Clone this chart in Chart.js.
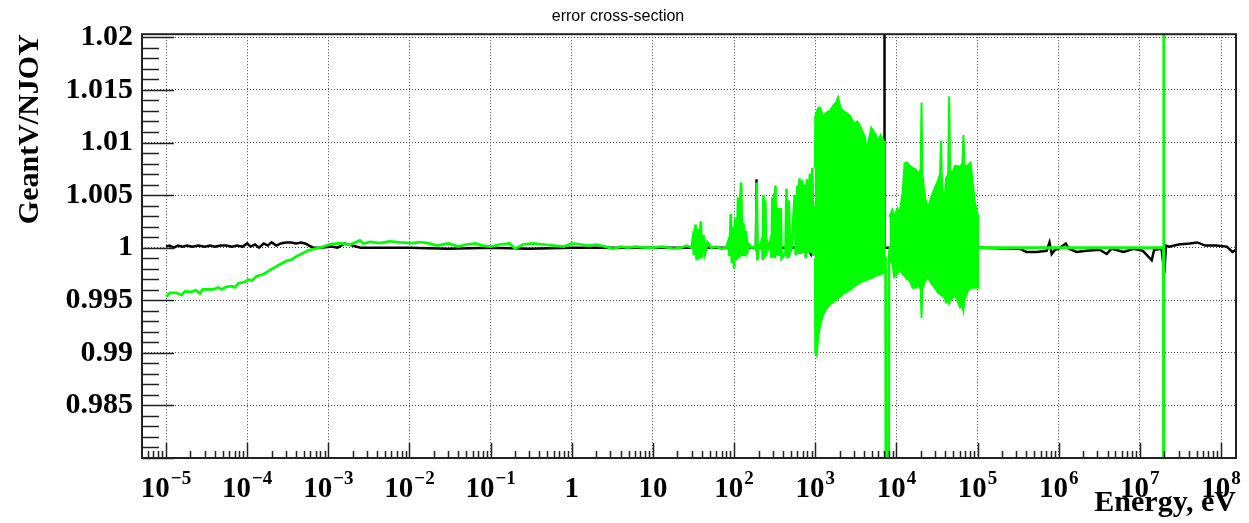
<!DOCTYPE html>
<html>
<head>
<meta charset="utf-8">
<title>error cross-section</title>
<script src="https://cdn.jsdelivr.net/npm/chart.js@4.4.1/dist/chart.umd.min.js"></script>
<style>
  html, body { margin: 0; padding: 0; background: #fff; }
  #chart { display: block; }
</style>
</head>
<body>
<canvas id="chart" width="1249" height="523"></canvas>
<script>
// GeantV / NJOY cross-section ratio vs neutron energy (ROOT-style look).
// Values.

// axis ranges and ticks
const xMin = 5.06e-6, xMax = 1.53e8;
const yMin = 0.98, yMax = 1.0203;
const xDecades = [-5, -4, -3, -2, -1, 0, 1, 2, 3, 4, 5, 6, 7, 8];
const yTickValues = [0.985, 0.99, 0.995, 1, 1.005, 1.01, 1.015, 1.02];
const yTickLabels = ["0.985", "0.99", "0.995", "1", "1.005", "1.01", "1.015", "1.02"];

// green: thermal / epithermal part (1e-5 .. 30 eV)
const greenLowE = [1e-5, 1.12e-5, 1.35e-5, 1.56e-5, 1.71e-5, 2.03e-5, 2.34e-5, 2.62e-5, 2.83e-5, 3.8e-5,
  4.4e-5, 4.85e-5, 5.5e-5, 6.45e-5, 7.1e-5, 7.75e-5, 9.4e-5, 1.03e-4, 1.14e-4, 1.31e-4,
  1.58e-4, 1.91e-4, 2.31e-4, 2.66e-4, 3.07e-4, 3.54e-4, 4.08e-4, 4.93e-4, 5.7e-4, 7.9e-4,
  1.05e-3, 1.4e-3, 1.85e-3, 2.45e-3, 2.7e-3, 3.3e-3, 4.3e-3, 5.7e-3, 7.6e-3, 1.08e-2,
  1.35e-2, 1.7e-2, 2.2e-2, 3e-2, 4e-2, 5e-2, 6.5e-2, 8e-2, 0.1, 0.13,
  0.17, 0.2, 0.25, 0.33, 0.45, 0.6, 0.8, 1, 1.3, 1.6,
  2, 2.6, 3.2, 4, 5, 6, 8, 10, 13, 18, 22, 26, 30];
const greenLowY = [0.99533, 0.99571, 0.99571, 0.99549, 0.99584, 0.9958, 0.99596, 0.99565, 0.99603, 0.99603,
  0.99622, 0.99603, 0.99628, 0.99634, 0.99622, 0.9966, 0.99675, 0.99698, 0.99685, 0.99729,
  0.99748, 0.99786, 0.99824, 0.9985, 0.99875, 0.99888, 0.99919, 0.99951, 0.99976, 1.0,
  1.00033, 1.00043, 1.00027, 1.0007, 1.0004, 1.00055, 1.00043, 1.00061, 1.0005, 1.00043,
  1.00052, 1.00043, 1.0002, 1.0004, 1.0001, 1.0003, 1.0004, 1.0002, 1.0001, 1.0003,
  1.0004, 0.9999, 1.0003, 1.0004, 1.0003, 1.0002, 1.0001, 1.0004, 1.0003, 1.0002,
  1.0003, 1.0001, 0.9999, 1.0001, 1.0, 1.0001, 1.0, 1.0, 1.0001, 0.9999, 1.0, 1.0002, 1.0];

// green: resolved resonances (30 eV .. 1 keV)
const greenResE = [31, 32, 33.5, 34.5, 36, 37, 39, 40, 42, 44, 47, 52, 60, 70, 80,
  85, 88, 91, 94, 97, 100, 104, 108, 112, 116, 119, 122, 126, 130, 135,
  140, 146, 153, 165, 178, 186, 190, 194, 200, 212, 222, 226, 230, 236, 242,
  248, 256, 268, 284, 290, 296, 303, 312, 318, 323, 330, 345, 355, 374, 385,
  430, 442, 455, 470, 490, 510, 560, 575, 600, 615, 640, 660, 690, 715, 740,
  760, 790, 820, 860, 890, 920, 950, 980, 1000];
const greenResY = [1.0008, 0.9993, 1.0022, 0.9988, 1.0018, 0.9989, 1.0025, 0.999, 1.0012, 0.9995, 1.0005, 1.0, 1.0001, 0.9999, 1.0,
  1.0006, 0.9992, 1.0032, 0.9985, 1.002, 0.998, 1.0028, 0.9988, 1.0048, 0.999, 1.004, 1.0062, 0.9992, 1.0024, 0.9992,
  1.0016, 0.9997, 1.0003, 1.0, 1.0001, 0.9998, 1.0062, 0.9988, 1.0002, 1.0, 1.001, 0.9988, 1.005, 0.999, 1.0045,
  0.9992, 1.0005, 1.0, 1.0008, 0.999, 1.0048, 0.9991, 1.0052, 0.999, 1.0059, 0.9993, 1.0038, 0.9992, 1.0038, 0.999,
  0.9995, 1.0056, 0.999, 1.0045, 0.9996, 1.0, 1.005, 0.9993, 1.0059, 0.9994, 1.0066, 0.9994, 1.0064, 0.9995, 1.006,
  0.999, 1.0065, 0.9995, 1.007, 0.9995, 1.0076, 0.9992, 1.004, 1.0];

// green: above 1 keV (dip near 7.7 keV, flat, spike near 20 MeV)
const greenHighE = [7350, 7700, 8100, 8300, 1.05e5, 1.95e7, 1.96e7, 1.975e7];
const greenHighY = [0.999, 0.9, 0.999, 1.0, 1.0, 1.0, 1.06, 0.94];

// green: unresolved-resonance bands (upper / lower envelope)
const band1E = [990, 1000, 1040, 1090, 1150, 1250, 1400, 1520, 1660, 1800, 1910, 2050, 2200, 2450,
  2700, 3000, 3300, 3600, 4100, 4300, 4500, 4900, 5500, 6000, 6400, 7000, 7400];
const band1Hi = [1.0076, 1.0125, 1.0129, 1.0133, 1.0133, 1.0125, 1.0129, 1.013, 1.0135, 1.0138, 1.0143, 1.0133, 1.013, 1.0128,
  1.0125, 1.0118, 1.012, 1.0115, 1.0105, 1.0093, 1.01, 1.0114, 1.0108, 1.0102, 1.0107, 1.0101, 1.01];
const band1Lo = [0.999, 0.99, 0.98975, 0.9915, 0.9926, 0.9936, 0.9943, 0.9946, 0.9948, 0.995, 0.9952, 0.9954, 0.9956, 0.9958,
  0.996, 0.9963, 0.9965, 0.9967, 0.9969, 0.9969, 0.997, 0.9971, 0.9973, 0.9974, 0.9975, 0.9976, 0.9977];

const band2E = [8200, 8900, 9400, 10300, 10900, 11900, 12600, 13500, 14500, 15800, 17500, 19000, 19900,
  20400, 20900, 22400, 24400, 27400, 29800, 32600, 34500, 35500, 36500, 38700, 41000, 43400, 44700,
  46000, 48700, 53000, 61000, 65000, 67000, 69000, 75000, 82000, 92000, 100000, 105000];
const band2Hi = [1.0029, 1.0036, 1.003, 1.0037, 1.0033, 1.0051, 1.008, 1.0081, 1.0078, 1.0076, 1.0074, 1.007, 1.0075,
  1.0138, 1.007, 1.0048, 1.0038, 1.005, 1.0057, 1.0064, 1.007, 1.0102, 1.006, 1.004, 1.0066, 1.007, 1.0144,
  1.0072, 1.0071, 1.0078, 1.0077, 1.008, 1.0107, 1.0078, 1.0078, 1.0081, 1.0045, 1.0031, 1.0031];
const band2Lo = [0.999, 0.9985, 0.9972, 0.9975, 0.998, 0.9975, 0.9973, 0.997, 0.9969, 0.9962, 0.9962, 0.9965, 0.996,
  0.9933, 0.996, 0.9968, 0.9972, 0.9965, 0.9962, 0.9957, 0.9956, 0.9955, 0.9955, 0.9953, 0.9948, 0.995, 0.9947,
  0.995, 0.9952, 0.9955, 0.9943, 0.9945, 0.994, 0.995, 0.9958, 0.9962, 0.9962, 0.9962, 0.9962];

// black: full energy range
const blackE = [1e-5, 1.1e-5, 1.25e-5, 1.4e-5, 1.6e-5, 1.8e-5, 2.1e-5, 2.5e-5, 3e-5, 3.5e-5,
  4e-5, 4.7e-5, 5.5e-5, 6.5e-5, 7.5e-5, 8.8e-5, 1e-4, 1.1e-4, 1.25e-4, 1.4e-4,
  1.6e-4, 1.8e-4, 2e-4, 2.3e-4, 2.6e-4, 3e-4, 3.5e-4, 4e-4, 4.6e-4, 5.2e-4,
  5.8e-4, 6.5e-4, 8e-4, 1.1e-3, 1.3e-3, 1.6e-3, 2.5e-3, 5e-3, 1e-2, 3e-2,
  0.1, 0.3, 1, 3, 10, 30, 100, 150, 186, 189,
  192, 250, 500, 760, 800, 880, 900, 2000, 7080, 7120,
  7160, 2e4, 1e5, 3.3e5, 4e5, 5.3e5, 7.1e5, 7.7e5, 8.2e5, 9e5,
  1e6, 1.22e6, 1.33e6, 1.67e6, 2.2e6, 3.2e6, 3.9e6, 4.5e6, 6.3e6, 8.4e6,
  1.09e7, 1.4e7, 1.5e7, 1.85e7, 2.0e7, 2.1e7, 2.3e7, 3e7, 4.1e7, 5.1e7,
  6.4e7, 8.7e7, 1.18e8, 1.38e8, 1.53e8];
const blackY = [1.0001, 1.0002, 1.0, 1.0002, 1.0001, 1.0002, 1.0001, 1.0002, 1.0001, 1.0002,
  1.0001, 1.0002, 1.0002, 1.0001, 1.0002, 1.0001, 1.0004, 1.0001, 1.0003, 1.0,
  1.0004, 1.0002, 1.0005, 1.0002, 1.0004, 1.0005, 1.0005, 1.0004, 1.0005, 1.0004,
  1.0002, 1.0, 1.0, 1.0001, 1.0, 1.0004, 1.0, 1.0, 1.0, 0.9999,
  1.0, 0.9999, 1.0, 1.0, 1.0, 1.0, 1.0, 1.0, 1.0, 1.0065,
  1.0, 1.0, 1.0, 1.0001, 1.0, 0.9994, 1.0, 1.0, 1.0, 1.04,
  1.0, 1.0, 1.0, 0.9999, 0.9996, 0.9996, 0.9997, 1.0005, 0.9994, 0.9998,
  0.9999, 1.0004, 0.9999, 0.9996, 0.9997, 0.9998, 0.9994, 0.9999, 0.9996, 0.9999,
  0.9997, 0.9988, 0.9998, 0.9999, 0.9976, 1.0002, 1.0001, 1.0003, 1.0004, 1.0005,
  1.0002, 1.0002, 1.0001, 0.9996, 0.9998];

const GREEN = "#00ff00";
const SERIF = "'Liberation Serif', 'Times New Roman', serif";
const pts = (xs, ys) => xs.map((x, i) => ({ x: x, y: ys[i] }));

// ROOT-like frame, inner ticks and 10^n labels
const rootAxes = {
  id: "rootAxes",
  afterDatasetsDraw(chart) {
    const { ctx, chartArea: a, scales: { x, y } } = chart;
    ctx.save();
    ctx.strokeStyle = "#222";
    ctx.lineWidth = 1.5;
    ctx.beginPath();
    // y ticks: 0.001 minor, 0.005 major
    for (let i = 0; i <= 40; i++) {
      const py = Math.round(y.getPixelForValue((980 + i) / 1000)) + 0.5;
      const len = i % 5 === 0 ? 32 : 17;
      ctx.moveTo(a.left, py);
      ctx.lineTo(a.left + len, py);
    }
    // x ticks: decades major, 2..9 minor
    for (let e = -6; e <= 8; e++) {
      for (let m = 1; m <= 9; m++) {
        const v = m * Math.pow(10, e);
        if (v < xMin || v > xMax) continue;
        const px = Math.round(x.getPixelForValue(v)) + 0.5;
        ctx.moveTo(px, a.bottom);
        ctx.lineTo(px, a.bottom - (m === 1 ? 15 : 7));
      }
    }
    ctx.stroke();
    ctx.lineWidth = 2;
    ctx.strokeRect(a.left, a.top, a.right - a.left, a.bottom - a.top);
    ctx.restore();
  },
  afterDraw(chart) {
    const { ctx, scales: { x } } = chart;
    ctx.save();
    ctx.fillStyle = "#000";
    ctx.textBaseline = "alphabetic";
    ctx.textAlign = "left";
    const baseFont = "bold 29px " + SERIF, supFont = "bold 19px " + SERIF;
    xDecades.forEach(e => {
      const px = x.getPixelForValue(Math.pow(10, e));
      const base = e === 0 ? "1" : "10";
      const sup = (e === 0 || e === 1) ? "" : String(e).replace("-", "\u2212");
      ctx.font = baseFont;
      const wb = ctx.measureText(base).width;
      ctx.font = supFont;
      const ws = sup ? ctx.measureText(sup).width + 1 : 0;
      const x0 = px - (wb + ws) / 2;
      ctx.font = baseFont;
      ctx.fillText(base, x0, 497);
      if (sup) {
        ctx.font = supFont;
        ctx.fillText(sup, x0 + wb + 1, 484);
      }
    });
    ctx.restore();
  }
};

const chart = new Chart(document.getElementById("chart"), {
  type: "line",
  data: {
    datasets: [
      { data: pts(band1E, band1Hi), borderColor: GREEN, backgroundColor: GREEN, borderWidth: 2, fill: "+1", order: 1 },
      { data: pts(band1E, band1Lo), borderColor: GREEN, borderWidth: 2, fill: false, order: 1 },
      { data: pts(band2E, band2Hi), borderColor: GREEN, backgroundColor: GREEN, borderWidth: 2, fill: "+1", order: 1 },
      { data: pts(band2E, band2Lo), borderColor: GREEN, borderWidth: 2, fill: false, order: 1 },
      { data: pts(greenLowE.concat(greenResE, greenHighE), greenLowY.concat(greenResY, greenHighY)),
        borderColor: GREEN, borderWidth: 2.7, fill: false, order: 1 },
      { data: pts(blackE, blackY), borderColor: "#000", borderWidth: 2.5, fill: false, order: 2 }
    ]
  },
  options: {
    responsive: false,
    animation: false,
    events: [],
    layout: { padding: { left: 0, right: 13, top: 0, bottom: 0 } },
    elements: { point: { radius: 0 }, line: { tension: 0 } },
    plugins: {
      legend: { display: false },
      tooltip: { enabled: false },
      title: {
        display: true,
        text: "error cross-section",
        color: "#000",
        font: { family: "'Liberation Sans', Arial, sans-serif", size: 16, weight: "normal" },
        padding: { top: 7, bottom: 8 }
      }
    },
    scales: {
      x: {
        type: "logarithmic",
        min: xMin,
        max: xMax,
        afterBuildTicks: s => { s.ticks = xDecades.map(e => ({ value: Math.pow(10, e) })); },
        afterFit: s => { s.height = 65; },
        ticks: { display: false },
        grid: { color: "#444", lineWidth: 1, drawTicks: false },
        border: { display: false, dash: [1, 2] },
        title: {
          display: true, text: "Energy, eV", align: "end", color: "#000",
          font: { family: SERIF, size: 30, weight: "bold" },
          padding: { top: 0, bottom: 2 }
        }
      },
      y: {
        min: yMin,
        max: yMax,
        afterBuildTicks: s => { s.ticks = yTickValues.map(v => ({ value: v })); },
        afterFit: s => { s.width = 142; },
        ticks: {
          callback: (v, i) => yTickLabels[i],
          color: "#000",
          padding: 9,
          font: { family: SERIF, size: 30, weight: "bold" }
        },
        grid: { color: "#444", lineWidth: 1, drawTicks: false },
        border: { display: false, dash: [1, 2] },
        title: {
          display: true, text: "GeantV/NJOY", align: "end", color: "#000",
          font: { family: SERIF, size: 30, weight: "bold" },
          padding: { top: 12, bottom: 0 }
        }
      }
    }
  },
  plugins: [rootAxes]
});
</script>
</body>
</html>
